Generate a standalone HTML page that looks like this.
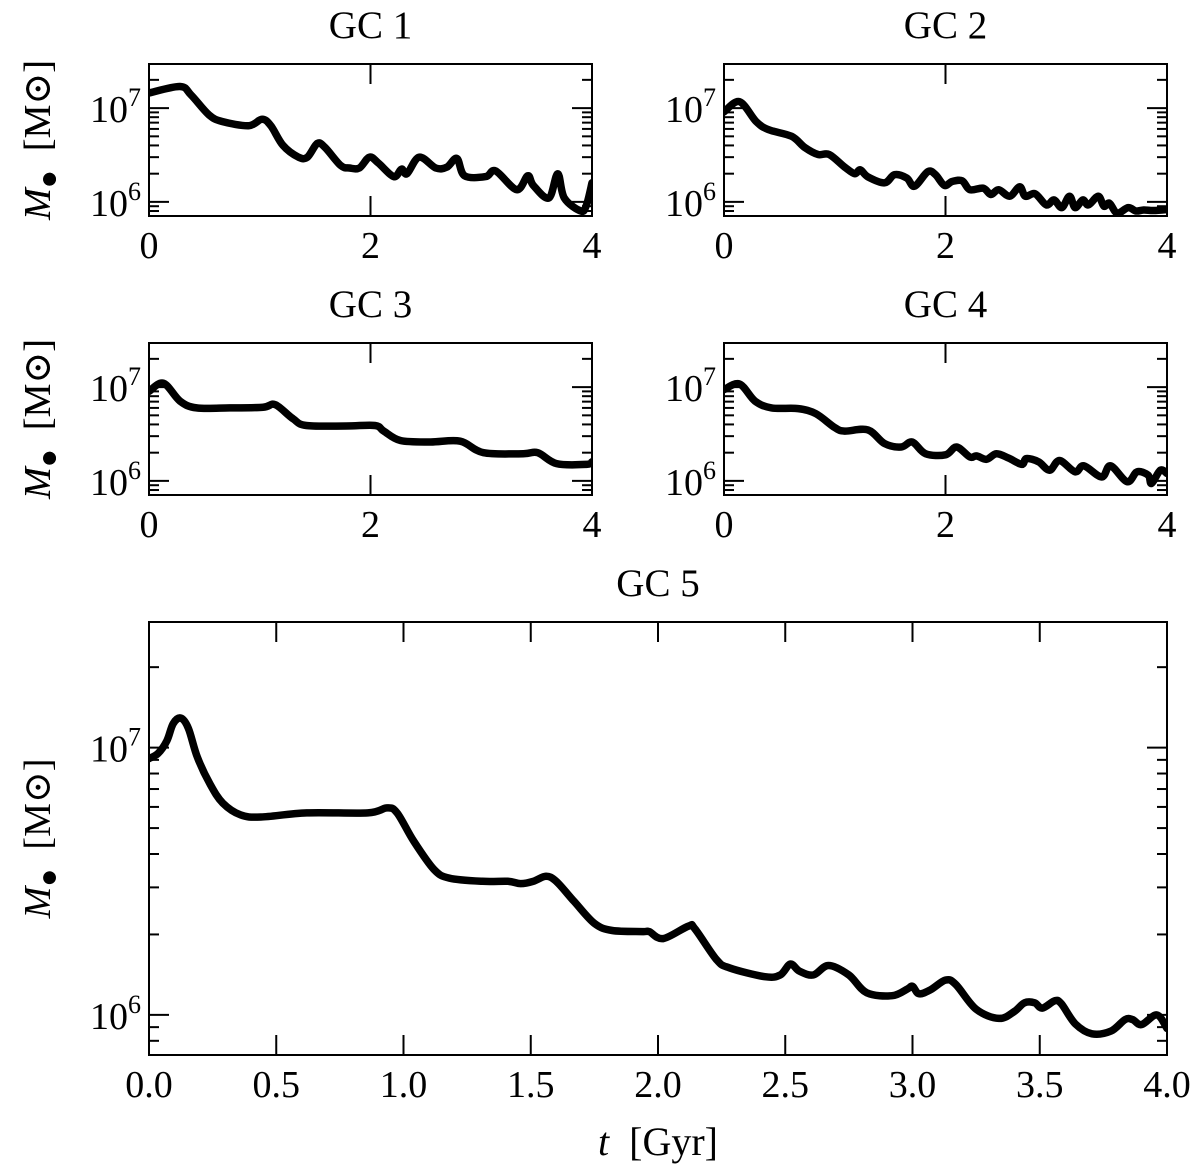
<!DOCTYPE html>
<html><head><meta charset="utf-8"><style>
html,body{margin:0;padding:0;background:#fff}
svg{display:block}
text{font-family:"Liberation Serif","DejaVu Serif",serif;fill:#000}
</style></head><body>
<svg id="fig" width="1200" height="1173" viewBox="0 0 1200 1173" xmlns="http://www.w3.org/2000/svg"></svg>
<script>
// time in Gyr, black hole mass in units of 1e6 Msun
const t1 = [0,0.28,0.38,0.54,0.66,0.9,1.02,1.1,1.21,1.35,1.43,1.52,1.59,1.73,1.81,1.9,1.99,2.07,2.21,2.28,2.33,2.44,2.59,2.69,2.78,2.85,3.04,3.13,3.32,3.42,3.47,3.61,3.69,3.75,3.9,3.95,4.0];
const m1 = [14.5,17,13.8,8.5,7.2,6.5,7.6,6.5,4.0,3.0,3.0,4.2,3.8,2.45,2.3,2.3,3.0,2.6,1.86,2.24,2.0,3.0,2.3,2.35,2.9,1.9,1.86,2.14,1.35,1.9,1.5,1.1,2.0,1.1,0.8,0.93,1.6];
const t2 = [0,0.14,0.29,0.4,0.61,0.73,0.85,0.95,1.09,1.18,1.23,1.3,1.45,1.54,1.65,1.72,1.84,1.91,1.99,2.06,2.15,2.22,2.34,2.41,2.48,2.58,2.67,2.72,2.81,2.91,2.98,3.05,3.12,3.17,3.24,3.29,3.38,3.43,3.48,3.55,3.65,3.72,3.79,3.88,4.0];
const m2 = [9.1,11.7,7.2,5.9,5.0,3.8,3.2,3.2,2.35,2.0,2.2,1.85,1.6,1.95,1.8,1.47,2.1,1.95,1.5,1.65,1.68,1.35,1.4,1.2,1.35,1.15,1.45,1.15,1.22,0.93,1.05,0.87,1.15,0.87,1.05,0.93,1.15,0.9,0.97,0.76,0.87,0.8,0.82,0.81,0.83];
const t3 = [0,0.13,0.28,0.43,0.73,1.03,1.14,1.3,1.42,1.78,2.04,2.12,2.27,2.54,2.81,3.02,3.38,3.51,3.68,3.95,4.0];
const m3 = [9.0,11,7.1,6.0,6.0,6.1,6.5,4.6,3.9,3.85,3.9,3.4,2.7,2.6,2.65,2.0,1.95,2.0,1.53,1.5,1.6];
const t4 = [0,0.14,0.28,0.43,0.67,0.83,1.0,1.09,1.3,1.45,1.6,1.7,1.82,2.0,2.1,2.22,2.28,2.37,2.46,2.57,2.69,2.73,2.84,2.94,3.03,3.17,3.25,3.41,3.49,3.64,3.73,3.83,3.86,3.94,4.0];
const m4 = [9.4,10.8,7.1,6.0,5.9,5.2,3.7,3.4,3.5,2.5,2.3,2.6,1.95,1.9,2.3,1.8,1.85,1.7,1.95,1.75,1.5,1.73,1.6,1.3,1.65,1.25,1.45,1.1,1.45,0.98,1.25,1.15,0.94,1.3,1.2];
const t5 = [0,0.035,0.07,0.095,0.125,0.155,0.19,0.24,0.29,0.36,0.44,0.62,0.86,0.935,0.975,1.04,1.12,1.18,1.31,1.41,1.46,1.51,1.56,1.6,1.67,1.75,1.82,1.94,1.965,2.02,2.12,2.145,2.23,2.28,2.42,2.48,2.52,2.555,2.61,2.67,2.75,2.82,2.92,2.98,3.0,3.025,3.07,3.13,3.17,3.25,3.34,3.4,3.44,3.48,3.51,3.56,3.585,3.64,3.705,3.78,3.835,3.865,3.9,3.96,4.0];
const m5 = [9.1,9.5,10.6,12.3,12.9,11.8,9.2,7.3,6.2,5.6,5.5,5.7,5.7,5.95,5.7,4.47,3.5,3.25,3.16,3.16,3.1,3.16,3.3,3.16,2.66,2.2,2.07,2.05,2.05,1.93,2.15,2.1,1.61,1.5,1.39,1.41,1.55,1.46,1.41,1.53,1.41,1.21,1.18,1.25,1.28,1.2,1.24,1.35,1.3,1.05,0.97,1.03,1.11,1.11,1.06,1.13,1.1,0.925,0.85,0.87,0.96,0.96,0.92,1.0,0.89];
const titles = ["GC 1","GC 2","GC 3","GC 4","GC 5"];
const smallXTicks = [0,2,4];
const bigXTicks = [0,0.5,1,1.5,2,2.5,3,3.5,4];
const bigXTickLabels = ["0.0","0.5","1.0","1.5","2.0","2.5","3.0","3.5","4.0"];
const yMajor = [6,7];

const NS="http://www.w3.org/2000/svg";
const svg=document.getElementById('fig');
function el(tag,attrs,parent){const e=document.createElementNS(NS,tag);for(const k in attrs)e.setAttribute(k,attrs[k]);(parent||svg).appendChild(e);return e;}
const LOGMIN=5.85, LOGMAX=7.47;

function panel(idx,L,T,W,H,ts,ms,xt,xtl){
  const g=el('g',{});
  
  
  const sx=t=>L+t/4*W;
  const sy=m=>T+(LOGMAX-Math.log10(m*1e6))/(LOGMAX-LOGMIN)*H;
  const cid='clip'+idx;
  const cp=el('clipPath',{id:cid},g);el('rect',{x:L,y:T,width:W,height:H},cp);
  const pts=ts.map((t,i)=>[sx(t),sy(ms[i])]);
  let d='M'+pts[0][0].toFixed(1)+','+pts[0][1].toFixed(1);
  for(let i=0;i<pts.length-1;i++){
    const p0=pts[Math.max(0,i-1)],p1=pts[i],p2=pts[i+1],p3=pts[Math.min(pts.length-1,i+2)];
    const c1=[p1[0]+(p2[0]-p0[0])/6,p1[1]+(p2[1]-p0[1])/6];
    const c2=[p2[0]-(p3[0]-p1[0])/6,p2[1]-(p3[1]-p1[1])/6];
    d+=' C'+c1[0].toFixed(1)+','+c1[1].toFixed(1)+' '+c2[0].toFixed(1)+','+c2[1].toFixed(1)+' '+p2[0].toFixed(1)+','+p2[1].toFixed(1);
  }
  const line=el('path',{d:d,fill:'none',stroke:'#000','stroke-width':7.5,'stroke-linejoin':'round','stroke-linecap':'round','clip-path':'url(#'+cid+')'},g);
  
  
  const fr=el('rect',{x:L,y:T,width:W,height:H,fill:'none',stroke:'#000','stroke-width':2},g);
  
  
  const maj=20, mnr=10;
  xt.forEach((v,i)=>{
    const x=sx(v);
    el('line',{x1:x,y1:T+H,x2:x,y2:T+H-maj,stroke:'#000','stroke-width':2},g);
    el('line',{x1:x,y1:T,x2:x,y2:T+maj,stroke:'#000','stroke-width':2},g);
    const tx=el('text',{x:x,y:T+H+42,'text-anchor':'middle','font-size':38},g);
    tx.textContent=xtl[i];
    
    
  });
  for(let dec=5;dec<=7;dec++){
    for(let k=1;k<=9;k++){
      const lg=dec+Math.log10(k);
      if(lg<LOGMIN||lg>LOGMAX)continue;
      const y=T+(LOGMAX-lg)/(LOGMAX-LOGMIN)*H;
      const len=k===1?maj:mnr;
      el('line',{x1:L,y1:y,x2:L+len,y2:y,stroke:'#000','stroke-width':2},g);
      el('line',{x1:L+W,y1:y,x2:L+W-len,y2:y,stroke:'#000','stroke-width':2},g);
    }
  }
  yMajor.forEach(v=>{
    const y=T+(LOGMAX-v)/(LOGMAX-LOGMIN)*H;
    const tx=el('text',{x:L-8,y:y+14,'text-anchor':'end','font-size':38},g);
    
    
    tx.appendChild(document.createTextNode('10'));
    const sp=el('tspan',{'font-size':26,dy:-16},tx);sp.textContent=String(v);
  });
  const ti=el('text',{x:L+W/2,y:T-26,'text-anchor':'middle','font-size':39},g);
  ti.textContent=titles[idx];
  
  
  const cy=T+H/2;
  const yl=el('text',{x:0,y:0,'text-anchor':'middle','font-size':38,transform:'translate(50,'+cy+') rotate(-90)'},g);
  
  
  const a=el('tspan',{'font-style':'italic'},yl);a.textContent='M';
  const b=el('tspan',{'font-size':30,dy:8},yl);b.textContent='\u25CF';
  const c=el('tspan',{dy:-8},yl);c.textContent='\u2002[M\u2299]';
}
panel(0,149,64,443,152,t1,m1,smallXTicks,["0","2","4"]);
panel(1,724,64,443,152,t2,m2,smallXTicks,["0","2","4"]);
panel(2,149,343,443,152,t3,m3,smallXTicks,["0","2","4"]);
panel(3,724,343,443,152,t4,m4,smallXTicks,["0","2","4"]);
panel(4,149,622,1018,433,t5,m5,bigXTicks,bigXTickLabels);
const xl=el('text',{x:658,y:1155,'text-anchor':'middle','font-size':40});


const xa=el('tspan',{'font-style':'italic'},xl);xa.textContent='t';
const xb=el('tspan',{},xl);xb.textContent='\u2002[Gyr]';
</script>
</body></html>
